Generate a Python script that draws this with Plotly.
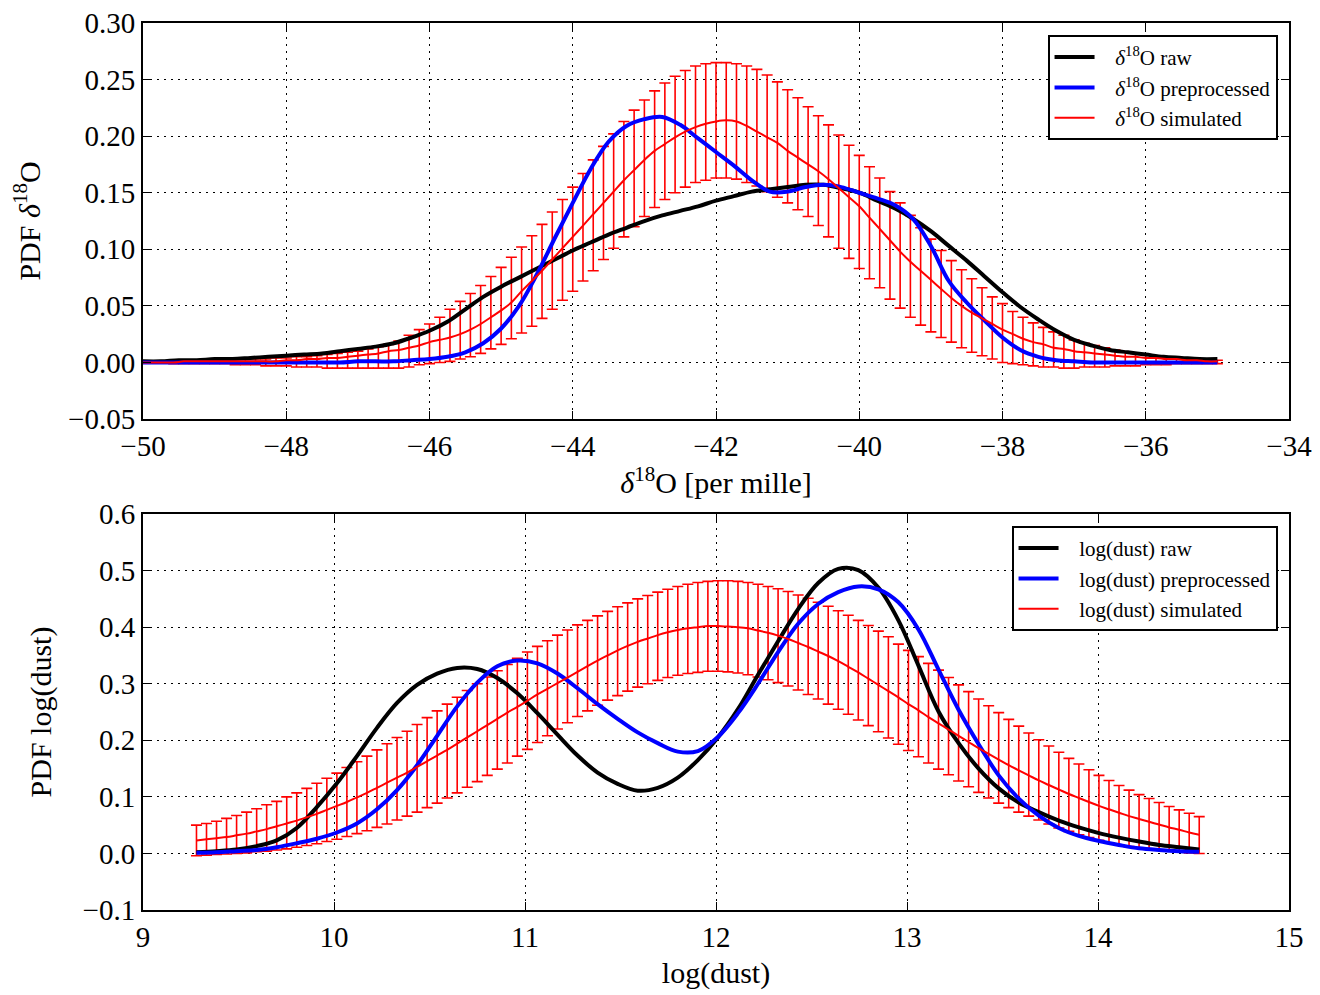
import plotly.graph_objects as go

# ---------------- top panel: delta18O ----------------
d18o_sim_x = [
    -50.0, -49.857, -49.714, -49.571, -49.429, -49.286, -49.143,
    -49.0, -48.857, -48.714, -48.571, -48.429, -48.286, -48.143,
    -48.0, -47.857, -47.714, -47.571, -47.429, -47.286, -47.143,
    -47.0, -46.857, -46.714, -46.571, -46.429, -46.286, -46.143,
    -46.0, -45.857, -45.714, -45.571, -45.429, -45.286, -45.143,
    -45.0, -44.857, -44.714, -44.571, -44.429, -44.286, -44.143,
    -44.0, -43.857, -43.714, -43.571, -43.429, -43.286, -43.143,
    -43.0, -42.857, -42.714, -42.571, -42.429, -42.286, -42.143,
    -42.0, -41.857, -41.714, -41.571, -41.429, -41.286, -41.143,
    -41.0, -40.857, -40.714, -40.571, -40.429, -40.286, -40.143,
    -40.0, -39.857, -39.714, -39.571, -39.429, -39.286, -39.143,
    -39.0, -38.857, -38.714, -38.571, -38.429, -38.286, -38.143,
    -38.0, -37.857, -37.714, -37.571, -37.429, -37.286, -37.143,
    -37.0, -36.857, -36.714, -36.571, -36.429, -36.286, -36.143,
    -36.0, -35.857, -35.714, -35.571, -35.429, -35.286, -35.143,
    -35.0]
d18o_sim_mean = [
    0.000, 0.000, 0.000, 0.000, 0.001, 0.001, 0.001,
    0.001, 0.001, 0.001, 0.001, 0.001, 0.001, 0.001,
    0.002, 0.002, 0.003, 0.003, 0.004, 0.004, 0.005,
    0.006, 0.007, 0.008, 0.010, 0.011, 0.013, 0.015,
    0.018, 0.020, 0.022, 0.025, 0.029, 0.034, 0.040,
    0.046, 0.053, 0.063, 0.072, 0.081, 0.091, 0.101,
    0.111, 0.121, 0.131, 0.141, 0.151, 0.161, 0.170,
    0.179, 0.187, 0.193, 0.199, 0.204, 0.208, 0.211,
    0.213, 0.214, 0.213, 0.209, 0.204, 0.199, 0.194,
    0.187, 0.181, 0.175, 0.169, 0.162, 0.154, 0.146,
    0.138, 0.128, 0.118, 0.108, 0.098, 0.089, 0.081,
    0.073, 0.065, 0.057, 0.050, 0.044, 0.039, 0.034,
    0.029, 0.025, 0.021, 0.018, 0.016, 0.013, 0.012,
    0.010, 0.009, 0.008, 0.007, 0.006, 0.005, 0.005,
    0.004, 0.004, 0.003, 0.003, 0.002, 0.002, 0.001,
    0.001]
d18o_sim_upper = [
    0.001, 0.001, 0.001, 0.001, 0.002, 0.002, 0.002,
    0.002, 0.002, 0.003, 0.003, 0.003, 0.003, 0.004,
    0.004, 0.005, 0.005, 0.006, 0.007, 0.008, 0.009,
    0.010, 0.012, 0.014, 0.016, 0.019, 0.024, 0.029,
    0.034, 0.040, 0.047, 0.054, 0.061, 0.068, 0.076,
    0.084, 0.093, 0.102, 0.112, 0.122, 0.133, 0.144,
    0.155, 0.167, 0.179, 0.191, 0.202, 0.213, 0.223,
    0.232, 0.240, 0.247, 0.253, 0.258, 0.262, 0.264,
    0.265, 0.265, 0.264, 0.262, 0.259, 0.254, 0.248,
    0.241, 0.234, 0.226, 0.218, 0.210, 0.201, 0.192,
    0.183, 0.173, 0.163, 0.151, 0.141, 0.130, 0.119,
    0.109, 0.099, 0.090, 0.082, 0.074, 0.066, 0.058,
    0.052, 0.045, 0.040, 0.035, 0.031, 0.027, 0.024,
    0.020, 0.017, 0.015, 0.013, 0.011, 0.009, 0.008,
    0.007, 0.006, 0.005, 0.004, 0.004, 0.003, 0.003,
    0.002]
d18o_sim_lower = [
    0.000, 0.000, 0.000, -0.001, -0.001, -0.001, -0.001,
    -0.001, -0.001, -0.002, -0.002, -0.002, -0.003, -0.003,
    -0.003, -0.004, -0.004, -0.004, -0.005, -0.005, -0.005,
    -0.005, -0.005, -0.005, -0.005, -0.005, -0.004, -0.002,
    -0.001, 0.000, 0.001, 0.003, 0.005, 0.008, 0.012,
    0.016, 0.021, 0.026, 0.032, 0.039, 0.047, 0.055,
    0.063, 0.072, 0.081, 0.091, 0.101, 0.111, 0.120,
    0.129, 0.137, 0.144, 0.150, 0.155, 0.159, 0.161,
    0.163, 0.163, 0.162, 0.159, 0.156, 0.151, 0.146,
    0.141, 0.135, 0.129, 0.121, 0.111, 0.101, 0.092,
    0.083, 0.074, 0.066, 0.056, 0.048, 0.040, 0.033,
    0.027, 0.022, 0.018, 0.013, 0.009, 0.006, 0.003,
    0.000, -0.001, -0.002, -0.003, -0.004, -0.004, -0.005,
    -0.005, -0.004, -0.004, -0.004, -0.003, -0.003, -0.003,
    -0.002, -0.002, -0.002, -0.001, -0.001, -0.001, -0.001,
    -0.001]

d18o_line_x = [
    -50.0, -49.75, -49.5, -49.25, -49.0, -48.75, -48.5, -48.25,
    -48.0, -47.75, -47.5, -47.25, -47.0, -46.75, -46.5, -46.25,
    -46.0, -45.75, -45.5, -45.25, -45.0, -44.75, -44.5, -44.25,
    -44.0, -43.75, -43.5, -43.25, -43.0, -42.75, -42.5, -42.25,
    -42.0, -41.75, -41.5, -41.25, -41.0, -40.75, -40.5, -40.25,
    -40.0, -39.75, -39.5, -39.25, -39.0, -38.75, -38.5, -38.25,
    -38.0, -37.75, -37.5, -37.25, -37.0, -36.75, -36.5, -36.25,
    -36.0, -35.75, -35.5, -35.25, -35.0]
d18o_raw = [
    0.001, 0.001, 0.002, 0.002, 0.003, 0.003, 0.004, 0.005,
    0.006, 0.007, 0.008, 0.010, 0.012, 0.014, 0.017, 0.022,
    0.028, 0.036, 0.047, 0.058, 0.067, 0.075, 0.083, 0.091,
    0.099, 0.106, 0.113, 0.119, 0.125, 0.130, 0.134, 0.138,
    0.143, 0.147, 0.151, 0.153, 0.155, 0.157, 0.157, 0.154,
    0.150, 0.143, 0.136, 0.127, 0.116, 0.103, 0.090, 0.076,
    0.062, 0.049, 0.038, 0.028, 0.020, 0.015, 0.011, 0.009,
    0.007, 0.005, 0.004, 0.003, 0.003]
d18o_pre = [
    0.000, 0.000, 0.000, 0.000, 0.000, 0.000, 0.000, 0.000,
    0.000, 0.000, 0.000, 0.000, 0.001, 0.001, 0.001, 0.002,
    0.003, 0.005, 0.009, 0.017, 0.030, 0.050, 0.078, 0.110,
    0.141, 0.171, 0.195, 0.209, 0.215, 0.217, 0.210, 0.198,
    0.186, 0.174, 0.161, 0.151, 0.151, 0.155, 0.157, 0.155,
    0.150, 0.145, 0.139, 0.127, 0.103, 0.072, 0.053, 0.037,
    0.022, 0.011, 0.005, 0.002, 0.001, 0.000, 0.000, 0.000,
    0.000, 0.000, 0.000, 0.000, 0.000]

# ---------------- bottom panel: log(dust) ----------------
dust_sim_x = [
    9.28, 9.3325, 9.385, 9.4375, 9.49, 9.5425, 9.595, 9.6475, 9.7, 9.7525,
    9.805, 9.8575, 9.91, 9.9625, 10.015, 10.0675, 10.12, 10.1725, 10.225, 10.2775,
    10.33, 10.3825, 10.435, 10.4875, 10.54, 10.5925, 10.645, 10.6975, 10.75, 10.8025,
    10.855, 10.9075, 10.96, 11.0125, 11.065, 11.1175, 11.17, 11.2225, 11.275, 11.3275,
    11.38, 11.4325, 11.485, 11.5375, 11.59, 11.6425, 11.695, 11.7475, 11.8, 11.8525,
    11.905, 11.9575, 12.01, 12.0625, 12.115, 12.1675, 12.22, 12.2725, 12.325, 12.3775,
    12.43, 12.4825, 12.535, 12.5875, 12.64, 12.6925, 12.745, 12.7975, 12.85, 12.9025,
    12.955, 13.0075, 13.06, 13.1125, 13.165, 13.2175, 13.27, 13.3225, 13.375, 13.4275,
    13.48, 13.5325, 13.585, 13.6375, 13.69, 13.7425, 13.795, 13.8475, 13.9, 13.9525,
    14.005, 14.0575, 14.11, 14.1625, 14.215, 14.2675, 14.32, 14.3725, 14.425, 14.4775,
    14.53]
dust_sim_mean = [
    0.023, 0.025, 0.027, 0.029, 0.032, 0.035, 0.039, 0.043, 0.048, 0.053,
    0.058, 0.064, 0.070, 0.077, 0.084, 0.091, 0.099, 0.107, 0.116, 0.125,
    0.134, 0.143, 0.153, 0.163, 0.173, 0.183, 0.194, 0.205, 0.216, 0.227,
    0.238, 0.249, 0.259, 0.270, 0.281, 0.291, 0.301, 0.311, 0.321, 0.331,
    0.341, 0.350, 0.359, 0.367, 0.374, 0.380, 0.386, 0.391, 0.395, 0.398,
    0.400, 0.402, 0.402, 0.401, 0.400, 0.398, 0.394, 0.390, 0.385, 0.379,
    0.372, 0.365, 0.357, 0.349, 0.340, 0.330, 0.320, 0.309, 0.298, 0.287,
    0.276, 0.264, 0.253, 0.241, 0.230, 0.219, 0.208, 0.197, 0.186, 0.176,
    0.166, 0.156, 0.147, 0.138, 0.129, 0.121, 0.113, 0.105, 0.098, 0.091,
    0.084, 0.078, 0.072, 0.066, 0.061, 0.056, 0.051, 0.046, 0.042, 0.037,
    0.033]
dust_sim_upper = [
    0.050, 0.053, 0.057, 0.062, 0.067, 0.073, 0.079, 0.086, 0.092, 0.100,
    0.107, 0.115, 0.124, 0.133, 0.142, 0.152, 0.162, 0.172, 0.183, 0.194,
    0.205, 0.216, 0.228, 0.240, 0.252, 0.264, 0.276, 0.288, 0.300, 0.312,
    0.323, 0.334, 0.345, 0.356, 0.366, 0.376, 0.386, 0.395, 0.404, 0.412,
    0.420, 0.428, 0.436, 0.443, 0.450, 0.456, 0.462, 0.467, 0.472, 0.476,
    0.479, 0.481, 0.482, 0.482, 0.481, 0.479, 0.476, 0.472, 0.468, 0.463,
    0.457, 0.451, 0.444, 0.437, 0.429, 0.421, 0.412, 0.403, 0.393, 0.383,
    0.370, 0.359, 0.348, 0.336, 0.324, 0.311, 0.298, 0.286, 0.273, 0.261,
    0.249, 0.237, 0.225, 0.213, 0.201, 0.190, 0.179, 0.168, 0.158, 0.148,
    0.138, 0.129, 0.120, 0.112, 0.104, 0.097, 0.090, 0.083, 0.077, 0.071,
    0.065]
dust_sim_lower = [
    -0.004, -0.003, -0.002, -0.001, 0.000, 0.001, 0.003, 0.004, 0.006, 0.008,
    0.011, 0.014, 0.017, 0.021, 0.025, 0.030, 0.035, 0.040, 0.046, 0.052,
    0.059, 0.066, 0.073, 0.081, 0.089, 0.098, 0.107, 0.117, 0.127, 0.138,
    0.149, 0.160, 0.172, 0.184, 0.196, 0.208, 0.220, 0.231, 0.242, 0.252,
    0.262, 0.271, 0.279, 0.287, 0.294, 0.300, 0.306, 0.311, 0.315, 0.318,
    0.320, 0.322, 0.322, 0.321, 0.319, 0.316, 0.312, 0.307, 0.302, 0.296,
    0.289, 0.281, 0.273, 0.264, 0.255, 0.246, 0.236, 0.226, 0.215, 0.204,
    0.193, 0.182, 0.171, 0.160, 0.149, 0.139, 0.128, 0.118, 0.108, 0.098,
    0.089, 0.081, 0.073, 0.066, 0.059, 0.052, 0.045, 0.039, 0.033, 0.028,
    0.023, 0.019, 0.015, 0.012, 0.010, 0.008, 0.006, 0.004, 0.003, 0.001,
    0.000]

dust_line_x = [
    9.28, 9.385, 9.49, 9.595, 9.7, 9.805, 9.91, 10.015, 10.12, 10.225,
    10.33, 10.435, 10.54, 10.645, 10.75, 10.855, 10.96, 11.065, 11.17, 11.275,
    11.38, 11.485, 11.59, 11.695, 11.8, 11.905, 12.01, 12.115, 12.22, 12.325,
    12.43, 12.535, 12.64, 12.745, 12.85, 12.955, 13.06, 13.165, 13.27, 13.375,
    13.48, 13.585, 13.69, 13.795, 13.9, 14.005, 14.11, 14.215, 14.32, 14.425,
    14.53]
dust_raw = [
    0.002, 0.004, 0.007, 0.013, 0.023, 0.045, 0.082, 0.124, 0.172, 0.222,
    0.266, 0.298, 0.318, 0.328, 0.326, 0.310, 0.283, 0.248, 0.210, 0.173,
    0.143, 0.123, 0.111, 0.116, 0.134, 0.165, 0.205, 0.255, 0.316, 0.375,
    0.432, 0.478, 0.503, 0.501, 0.470, 0.412, 0.332, 0.251, 0.195, 0.150,
    0.115, 0.090, 0.073, 0.058, 0.046, 0.036, 0.028, 0.021, 0.015, 0.011,
    0.007]
dust_pre = [
    0.001, 0.002, 0.004, 0.006, 0.011, 0.018, 0.026, 0.037, 0.053, 0.078,
    0.112, 0.156, 0.208, 0.260, 0.302, 0.331, 0.341, 0.336, 0.318, 0.292,
    0.264, 0.238, 0.214, 0.195, 0.180, 0.181, 0.206, 0.248, 0.300, 0.356,
    0.406, 0.441, 0.462, 0.472, 0.467, 0.444, 0.396, 0.325, 0.254, 0.193,
    0.138, 0.097, 0.067, 0.045, 0.031, 0.022, 0.015, 0.009, 0.006, 0.004,
    0.003]

# ---------------- figure ----------------
FONT = "Liberation Serif"
RED, BLUE, BLACK = "#ff0000", "#0000ff", "#000000"
PAD = "\u00a0\u00a0\u00a0"


def err_plus(mean, upper):
    return [u - m for m, u in zip(mean, upper)]


def err_minus(mean, lower):
    return [m - l for m, l in zip(mean, lower)]


fig = go.Figure()


def add_panel(xa, ya, legend, lab, sx, smean, sup, slo, lx, raw, pre):
    # simulated error bars (below the lines)
    fig.add_trace(go.Scatter(
        x=sx, y=smean, mode="markers", xaxis=xa, yaxis=ya,
        marker=dict(size=1, color="rgba(0,0,0,0)"),
        error_y=dict(type="data", symmetric=False,
                     array=err_plus(smean, sup),
                     arrayminus=err_minus(smean, slo),
                     color=RED, thickness=1.6, width=5.5),
        showlegend=False, hoverinfo="skip"))
    fig.add_trace(go.Scatter(
        x=lx, y=raw, mode="lines", xaxis=xa, yaxis=ya, legend=legend,
        line=dict(color=BLACK, width=4, shape="spline"),
        name=f"{PAD}{lab} raw"))
    fig.add_trace(go.Scatter(
        x=lx, y=pre, mode="lines", xaxis=xa, yaxis=ya, legend=legend,
        line=dict(color=BLUE, width=4, shape="spline"),
        name=f"{PAD}{lab} preprocessed"))
    fig.add_trace(go.Scatter(
        x=sx, y=smean, mode="lines", xaxis=xa, yaxis=ya, legend=legend,
        line=dict(color=RED, width=2, shape="spline"),
        name=f"{PAD}{lab} simulated"))


add_panel("x", "y", "legend", "<i>δ</i><sup>18</sup>O",
          d18o_sim_x, d18o_sim_mean, d18o_sim_upper, d18o_sim_lower,
          d18o_line_x, d18o_raw, d18o_pre)
add_panel("x2", "y2", "legend2", "log(dust)",
          dust_sim_x, dust_sim_mean, dust_sim_upper, dust_sim_lower,
          dust_line_x, dust_raw, dust_pre)

axis_common = dict(
    showline=True, linecolor=BLACK, linewidth=2, mirror="allticks",
    ticks="inside", ticklen=8, tickwidth=1.2, tickcolor=BLACK,
    showgrid=True, gridcolor=BLACK, gridwidth=1, griddash="2px,5px",
    zeroline=False, automargin=False, ticklabeloverflow="allow",
    tickfont=dict(family=FONT, size=29, color=BLACK),
    title_font=dict(family=FONT, size=30, color=BLACK),
)

legend_common = dict(
    bgcolor="white", bordercolor=BLACK, borderwidth=2,
    font=dict(family=FONT, size=21, color=BLACK),
    itemwidth=40, xanchor="right", yanchor="top", traceorder="normal",
)

# page body has an 8px margin, so the figure is 16px smaller than the window
fig.update_layout(
    width=1312, height=987,
    margin=dict(l=135, r=31, t=15, b=85, autoexpand=False),
    paper_bgcolor="white", plot_bgcolor="white",
    xaxis=dict(axis_common, domain=[0, 1], anchor="y", range=[-50, -34],
               dtick=2, tick0=-50,
               title=dict(text="<i>δ</i><sup>18</sup>O [per mille]", standoff=10)),
    yaxis=dict(axis_common, domain=[0.5535, 1.0], anchor="x",
               range=[-0.05, 0.30], dtick=0.05, tick0=0, tickformat=".2f",
               title=dict(text="PDF <i>δ</i><sup>18</sup>O", standoff=22)),
    xaxis2=dict(axis_common, domain=[0, 1], anchor="y2", range=[9, 15],
                dtick=1, tick0=9,
                title=dict(text="log(dust)", standoff=10)),
    yaxis2=dict(axis_common, domain=[0, 0.4464], anchor="x2",
                range=[-0.1, 0.6], dtick=0.1, tick0=0, tickformat=".1f",
                title=dict(text="PDF log(dust)", standoff=22)),
    legend=dict(legend_common, x=0.990, y=0.9865),
    legend2=dict(legend_common, x=0.990, y=0.433),
    showlegend=True,
)

fig.write_html("out.html")
